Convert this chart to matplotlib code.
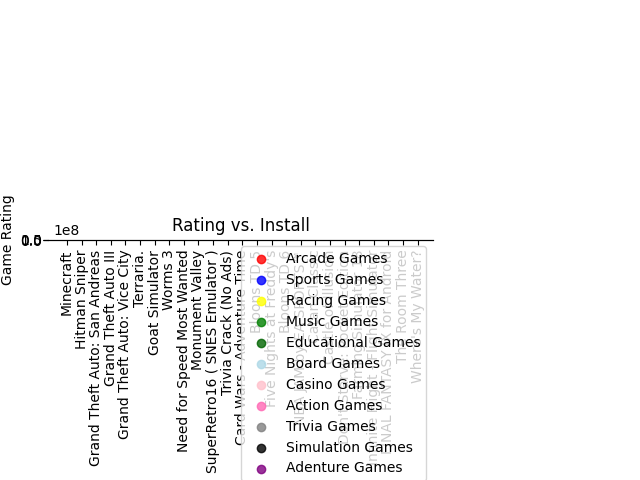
import matplotlib
matplotlib.use("Agg")
import matplotlib.pyplot as plt

games = [
    "Minecraft", "Hitman Sniper", "Grand Theft Auto: San Andreas",
    "Grand Theft Auto III", "Grand Theft Auto: Vice City", "Terraria.",
    "Goat Simulator", "Worms 3", "Need for Speed Most Wanted",
    "Monument Valley", "SuperRetro16 ( SNES Emulator )",
    "Trivia Crack (No Ads)", "Card Wars - Adventure Time", "Bloons TD 5",
    "Five Nights at Freddy's", "Bloons TD 6", "NBA JAM by EA SPORTS™",
    "Catan Classic", "Castle of Illusion", "Don't Starve: Pocket Edition",
    "Farming Simulator 18", "Infinite Flight - Flight Simulator",
    "FINAL FANTASY IX for Android", "The Room Three", "Where's My Water?",
]
installs = [
    10000000, 10000000, 1000000, 1000000, 1000000, 1000000,
    1000000, 1000000, 1000000, 1000000, 1000000,
    1000000, 1000000, 1000000,
    1000000, 1000000, 500000,
    500000, 500000, 500000,
    500000, 500000,
    500000, 500000, 500000,
]
game_genre = [
    "Arcade Games", "Action Games", "Action Games", "Action Games",
    "Action Games", "Adenture Games", "Simulation Games", "Arcade Games",
    "Racing Games", "Educational Games", "Arcade Games", "Trivia Games",
    "Board Games", "Arcade Games", "Action Games", "Arcade Games",
    "Sports Games", "Board Games", "Adenture Games", "Adenture Games",
    "Simulation Games", "Simulation Games", "Adenture Games",
    "Adenture Games", "Educational Games",
]
genres = ["Arcade Games", "Sports Games", "Racing Games", "Music Games",
          "Educational Games", "Board Games", "Casino Games", "Action Games",
          "Trivia Games", "Simulation Games", "Adenture Games"]
colors = ["red", "blue", "yellow", "green", "darkgreen", "lightblue",
          "pink", "hotpink", "gray", "black", "purple"]
y_ticks = [0, 0.5e8, 1e8]

fig = plt.figure(figsize=(6.4, 4.8), dpi=100)
ax = fig.add_axes([48 / 640, 0.5, 385 / 640, 0.001])

for g, c in zip(genres, colors):
    xs = [i for i, gg in enumerate(game_genre) if gg == g]
    ys = [installs[i] for i in xs]
    ax.scatter(xs, ys, color=c, alpha=0.8, label=g)

ax.set_xticks(range(len(games)))
ax.set_xticklabels(games, rotation=90)
ax.set_xlim(-1.3, len(games) + 0.05)
ax.set_ylim(0, 1e8)
ax.set_yticks(y_ticks)
ax.tick_params(axis="y", pad=0.6)
ax.set_title("Rating vs. Install")
ax.set_ylabel("Game Rating")
ax.legend(loc="upper right")
fig.canvas.draw()
ax.yaxis.get_offset_text().set_x(5 / 385)

fig.savefig("out.png", dpi=100)
